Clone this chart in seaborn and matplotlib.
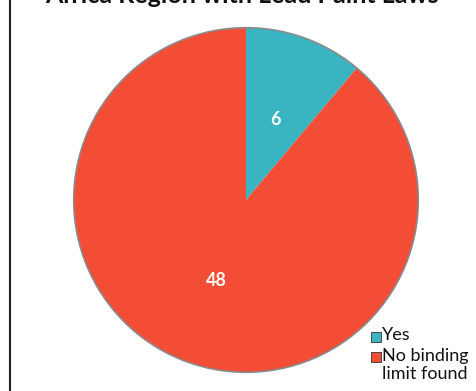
import matplotlib
matplotlib.use("Agg")
import matplotlib.pyplot as plt
import seaborn as sns
from matplotlib.patches import Circle, Rectangle
from matplotlib.lines import Line2D

sns.set_theme(style="white")
plt.rcParams["font.family"] = ["Lato", "DejaVu Sans"]

title = "Africa Region with Lead Paint Laws"
categories = ["Yes", "No binding\nlimit found"]
counts = [6, 48]
colors = ["#3BB4C1", "#F44D36"]

fig = plt.figure(figsize=(4.77, 3.91), dpi=100)
W, H = 477, 391


def fx(px):
    return px / W


def fy(py):
    return 1 - py / H


# pie axes: centre (246, 200) px, radius 174 px
cx, cy, r = 246, 200, 174
ax = fig.add_axes([fx(cx - r), fy(cy + r), 2 * r / W, 2 * r / H])
wedges, texts = ax.pie(
    counts,
    colors=colors,
    startangle=90,
    counterclock=False,
    labels=[str(c) for c in counts],
    labeldistance=0.5,
    wedgeprops=dict(linewidth=0),
    textprops=dict(color="white", fontweight="bold", fontsize=13, ha="center", va="center"),
)
ax.add_patch(Circle((0, 0), 1.0, fill=False, edgecolor="#8a8a8a", linewidth=1.2))
ax.set_xlim(-1.01, 1.01)
ax.set_ylim(-1.01, 1.01)
ax.set_aspect("equal")
ax.axis("off")

# title, mostly clipped by the top edge
fig.text(0.5 + 3 / W, fy(3), title, ha="center", va="baseline",
         fontsize=18, fontweight="bold", color="#111111")

# left border line
fig.add_artist(Line2D([fx(10.5), fx(10.5)], [0, 1], color="#222222", linewidth=1.5))

# legend: square marker aligned with the first line of each label
legend_rows = [337, 357]
box = 9.5
for c, label, ry in zip(colors, categories, legend_rows):
    fig.add_artist(Rectangle((fx(371.5), fy(ry + box / 2)), box / W, box / H,
                             facecolor=c, edgecolor="#333333", linewidth=0.6,
                             transform=fig.transFigure))
    fig.text(fx(382), fy(ry - 9.5), label, ha="left", va="top", fontsize=13,
             color="#111111", linespacing=1.2, multialignment="center")

fig.savefig("out.png", dpi=100)
